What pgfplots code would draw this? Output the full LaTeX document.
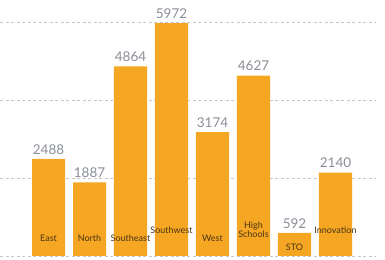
\documentclass[border=0pt]{standalone}
\usepackage{pgfplots}
\pgfplotsset{compat=1.18}
\usepackage{fontspec}
\setmainfont{Lato}
\definecolor{barc}{HTML}{F5A623}
\definecolor{valc}{HTML}{8A8E97}
\definecolor{catc}{HTML}{4A3515}
\definecolor{gridc}{HTML}{C4C6CC}
\begin{document}
\begin{tikzpicture}
\begin{axis}[
  at={(0,0)}, anchor=south west,
  scale only axis, width=376bp, height=260bp,
  xmin=-1.183, xmax=7.988,
  ymin=-103, ymax=6564,
  axis line style={draw=none},
  tick style={draw=none},
  ytick={0,2000,4000,6000},
  yticklabels={},
  xtick=\empty,
  ymajorgrids,
  grid style={gridc, line width=0.8pt, dash pattern=on 3bp off 2.5bp},
  clip=false,
]
\addplot[ybar, bar width=0.805, fill=barc, draw=none,
  nodes near coords,
  nodes near coords style={font=\fontsize{13.5bp}{14bp}\selectfont, text=valc, yshift=1bp,
    /pgf/number format/.cd, 1000 sep={}, fixed, assume math mode=true},
  point meta=y]
  coordinates {(0,2488) (1,1887) (2,4864) (3,5972) (4,3174) (5,4627) (6,592) (7,2140)};
\begin{scope}[every node/.style={font=\fontsize{9bp}{9bp}\selectfont, text=catc, inner sep=0pt}]
\node at (axis cs:0,462) {East};
\node at (axis cs:1,462) {North};
\node at (axis cs:2,462) {Southeast};
\node at (axis cs:3,667) {Southwest};
\node at (axis cs:4,462) {West};
\node[align=center, font=\fontsize{9bp}{8.5bp}\selectfont] at (axis cs:5,667) {High\\Schools};
\node at (axis cs:6,230) {STO};
\node at (axis cs:7,667) {Innovation};
\end{scope}
\end{axis}
\pgfresetboundingbox
\path (0,0) rectangle (385bp,260bp);
\end{tikzpicture}
\end{document}
